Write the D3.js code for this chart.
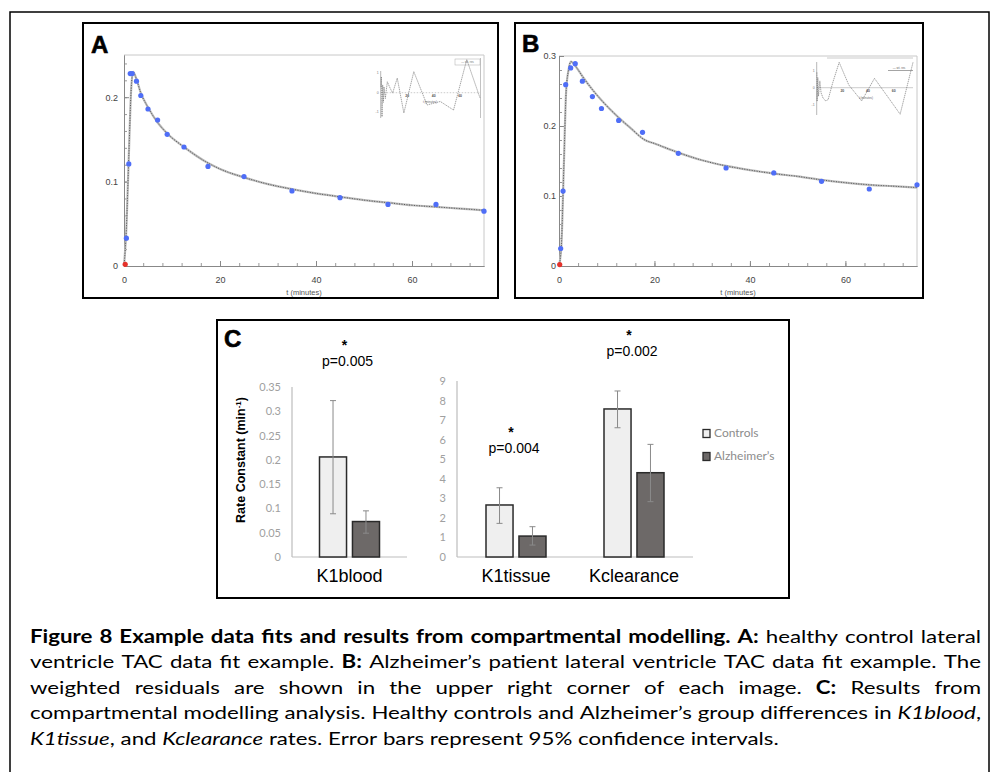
<!DOCTYPE html>
<html>
<head>
<meta charset="utf-8">
<script src="https://cdn.jsdelivr.net/npm/d3@7"></script>
<style>
  body { margin: 0; background: #fff; }
  svg { display: block; }
</style>
</head>
<body>
<svg id="fig" width="991" height="772"></svg>
<script>
// ---- Panel A: healthy control, lateral ventricle TAC ----
const timesA = [0.25, 0.5, 1, 1.3, 1.7, 2.6, 3.5, 5, 7, 9, 12.5, 17.5, 25, 35, 45, 55, 65, 75];
const valuesA = [0.002, 0.033, 0.121, 0.228, 0.228, 0.219, 0.202, 0.186, 0.173, 0.156, 0.141, 0.118, 0.106, 0.089, 0.081, 0.073, 0.073, 0.065];
const fitTimesA = [0, 0.5, 1, 1.5, 1.9, 2.5, 3.5, 5, 7, 9, 12.5, 17.5, 20, 25, 30, 35, 40, 45, 50, 55, 60, 65, 70, 75];
const fitValuesA = [0, 0.045, 0.13, 0.21, 0.23, 0.223, 0.205, 0.188, 0.17, 0.157, 0.141, 0.122, 0.115, 0.105, 0.097, 0.091, 0.086, 0.082, 0.078, 0.075, 0.072, 0.07, 0.068, 0.066];
const resTimesA = [0.25, 0.5, 1, 1.5, 2, 2.5, 3.5, 5, 7, 9, 12.5, 17.5, 25, 35, 45, 55, 65, 75];
const resValuesA = [0.3, 0.82, -1.23, 0.4, -0.5, 0.3, -0.3, 0.56, 0.25, -0.02, 0.75, -1.04, 1.08, -0.63, -0.45, -0.89, 1.7, -0.27];

// ---- Panel B: Alzheimer's patient, lateral ventricle TAC ----
const timesB = [0.15, 0.35, 0.85, 1.4, 2.45, 3.4, 4.9, 7, 8.9, 12.5, 17.5, 25, 35, 45, 55, 65, 75];
const valuesB = [0.002, 0.025, 0.107, 0.259, 0.283, 0.289, 0.264, 0.242, 0.225, 0.208, 0.191, 0.161, 0.14, 0.133, 0.121, 0.11, 0.116];
const fitTimesB = [0, 0.5, 1, 1.5, 2, 2.5, 3.5, 5, 7, 9, 12.5, 15, 18, 20, 25, 30, 35, 40, 45, 50, 55, 60, 65, 70, 75];
const fitValuesB = [0, 0.03, 0.14, 0.25, 0.28, 0.292, 0.285, 0.27, 0.252, 0.236, 0.212, 0.197, 0.18, 0.175, 0.162, 0.151, 0.143, 0.137, 0.132, 0.128, 0.123, 0.119, 0.116, 0.114, 0.112];
const resTimesB = [0.15, 0.35, 0.85, 1.4, 2.45, 3.4, 4.9, 7, 8.9, 12.5, 17.5, 25, 35, 45, 55, 65, 75];
const resValuesB = [0.9, -0.8, 0.6, -0.5, 0.4, -0.3, -0.6, -0.78, -0.7, 0.3, 1.49, 0.16, -0.78, 0.55, -0.5, -1.56, 1.49];

// axis ticks for A / B
const timeMajorTicks = [0, 20, 40, 60];
const timeMinorTicks = d3.range(0, 76, 4);
const tacTicksA = [0, 0.1, 0.2];
const tacTicksB = [0, 0.1, 0.2, 0.3];
const tacMinorTicks = d3.range(0, 0.301, 0.02);
const resTicks = [-1, 0, 1];

// ---- Panel C: rate constants ----
const rateCategories = ['K1blood', 'K1tissue', 'Kclearance'];
const seriesNames = ['Controls', 'Alzheimer’s'];
const controlsRate = [0.206, 2.66, 7.57];
const controlsLow = [0.089, 1.72, 6.61];
const controlsHigh = [0.322, 3.54, 8.49];
const alzRate = [0.073, 1.07, 4.31];
const alzLow = [0.049, 0.61, 2.83];
const alzHigh = [0.095, 1.55, 5.76];
const pLabels = ['p=0.005', 'p=0.004', 'p=0.002'];
const bloodTicks = [0, 0.05, 0.1, 0.15, 0.2, 0.25, 0.3, 0.35];
const bloodTickLabels = ['0', '0.05', '0.1', '0.15', '0.2', '0.25', '0.3', '0.35'];
const tissueTicks = [0, 1, 2, 3, 4, 5, 6, 7, 8, 9];

const svg = d3.select('#fig');
const SANS = '"Liberation Sans", Arial, sans-serif';
const EXCEL = 'Lato, "Open Sans", sans-serif';

// outer frame
svg.append('rect')
    .attr('x', 10).attr('y', 12)
    .attr('width', 979).attr('height', 790)
    .attr('fill', 'none').attr('stroke', '#000').attr('stroke-width', 1.5);

// Draw a TAC fit panel (A or B)
function drawFitPanel(cfg) {
    const g = svg.append('g');

    g.append('rect')
        .attr('x', cfg.box[0]).attr('y', cfg.box[1])
        .attr('width', cfg.box[2] - cfg.box[0]).attr('height', cfg.box[3] - cfg.box[1])
        .attr('fill', '#fff').attr('stroke', '#000').attr('stroke-width', 2);

    g.append('text')
        .attr('x', cfg.labelPos[0]).attr('y', cfg.labelPos[1])
        .style('font', `bold 24px ${SANS}`)
        .attr('stroke', '#000').attr('stroke-width', 0.6)
        .text(cfg.label);

    const x = d3.scaleLinear().domain([0, 75]).range([cfg.plot[0], cfg.plot[1]]);
    const y = d3.scaleLinear().domain([0, cfg.ymax]).range([cfg.plot[2], cfg.plot[3]]);

    // light frame on top / right
    g.append('path')
        .attr('d', `M${x(0)},${y(cfg.ymax)}H${x(75)}V${y(0)}`)
        .attr('fill', 'none').attr('stroke', '#c8c8c8').attr('stroke-width', 1);

    // minor ticks
    g.append('g')
        .attr('transform', `translate(0,${y(0)})`)
        .call(d3.axisBottom(x).tickValues(timeMinorTicks).tickSize(-3).tickFormat('').tickSizeOuter(0))
        .call(a => a.selectAll('line,path').attr('stroke', '#999'));
    g.append('g')
        .attr('transform', `translate(${x(0)},0)`)
        .call(d3.axisLeft(y).tickValues(tacMinorTicks.filter(v => v <= cfg.ymax + 1e-9)).tickSize(-3).tickFormat('').tickSizeOuter(0))
        .call(a => a.selectAll('line,path').attr('stroke', '#999'));

    // major ticks + labels
    g.append('g')
        .attr('transform', `translate(0,${y(0)})`)
        .call(d3.axisBottom(x).tickValues(timeMajorTicks).tickSize(-5).tickPadding(11).tickSizeOuter(0))
        .call(a => a.selectAll('line,path').attr('stroke', '#888'))
        .call(a => a.selectAll('text').style('font', `9px ${SANS}`).attr('fill', '#444'));
    g.append('g')
        .attr('transform', `translate(${x(0)},0)`)
        .call(d3.axisLeft(y).tickValues(cfg.yTicks).tickSize(-5).tickPadding(cfg.yPad).tickSizeOuter(0)
            .tickFormat(d => d === 0 ? '0' : d3.format('.1f')(d)))
        .call(a => a.selectAll('line,path').attr('stroke', '#888'))
        .call(a => a.selectAll('text').style('font', `9px ${SANS}`).attr('fill', '#444'));

    g.append('text')
        .attr('x', (x(0) + x(75)) / 2).attr('y', 294.5)
        .attr('text-anchor', 'middle')
        .style('font', `7.5px ${SANS}`).attr('fill', '#555')
        .text('t (minutes)');

    // fitted curve: grey band with dotted overlay
    const fit = cfg.fitT.map((t, i) => [t, cfg.fitV[i]]);
    const line = d3.line().x(d => x(d[0])).y(d => y(d[1])).curve(d3.curveMonotoneX);
    g.append('path').attr('d', line(fit))
        .attr('fill', 'none').attr('stroke', '#bcbcbc').attr('stroke-width', 2.2);
    g.append('path').attr('d', line(fit))
        .attr('fill', 'none').attr('stroke', '#3a3a3a').attr('stroke-width', 0.8)
        .attr('stroke-dasharray', '1,1.5');

    // measured points
    g.selectAll('.pt')
        .data(cfg.t.map((t, i) => [t, cfg.v[i]]))
        .enter().append('circle')
        .attr('cx', d => x(d[0])).attr('cy', d => y(d[1]))
        .attr('r', 2.6)
        .attr('fill', (d, i) => i === 0 ? '#e5322b' : '#4f6ef7');

    // weighted residuals inset
    const ins = cfg.inset;
    const ix = d3.scaleLinear().domain([0, 75]).range([ins.x0, ins.x1]);
    const iy = d3.scaleLinear().domain([-1, 1]).range([ins.zero + ins.unit, ins.zero - ins.unit]);
    const ig = g.append('g');
    ig.append('line')
        .attr('x1', ix(0)).attr('x2', ix(0)).attr('y1', ins.axisTop).attr('y2', ins.axisBottom)
        .attr('stroke', '#888').attr('stroke-width', 0.6);
    ig.append('line')
        .attr('x1', ix(0)).attr('x2', ix(75)).attr('y1', iy(0)).attr('y2', iy(0))
        .attr('stroke', '#aaa').attr('stroke-width', 0.6)
        .attr('stroke-dasharray', ins.dashedZero ? '1.5,1.5' : null);
    ins.extra(ig, ix, iy);
    ig.selectAll('.rt')
        .data(resTicks)
        .enter().append('text')
        .attr('x', ix(0) - 2).attr('y', d => iy(d) + 1)
        .attr('text-anchor', 'end')
        .style('font', `3.5px ${SANS}`).attr('fill', '#777')
        .text(d => d);
    ig.selectAll('.xt')
        .data([20, 40, 60])
        .enter().append('text')
        .attr('x', d => ix(d)).attr('y', iy(0) + 4.5)
        .attr('text-anchor', 'middle')
        .style('font', `bold 3.5px ${SANS}`).attr('fill', '#555')
        .text(d => d);
    ig.append('text')
        .attr('x', ins.tlabel[0]).attr('y', ins.tlabel[1])
        .attr('text-anchor', 'middle')
        .style('font', `3px ${SANS}`).attr('fill', '#666')
        .text('t (minutes)');
    ig.append('path')
        .attr('d', d3.line().x(d => ix(d[0])).y(d => iy(d[1]))(ins.t.map((t, i) => [t, ins.v[i]])))
        .attr('fill', 'none').attr('stroke', '#666').attr('stroke-width', 0.6)
        .attr('stroke-dasharray', '1.4,0.7');
}

drawFitPanel({
    label: 'A', labelPos: [91, 53],
    box: [83, 23, 498, 298],
    plot: [124, 484, 266, 55], ymax: 0.25, yTicks: tacTicksA, yPad: 6,
    t: timesA, v: valuesA, fitT: fitTimesA, fitV: fitValuesA,
    inset: {
        x0: 380.7, x1: 480, zero: 92.7, unit: 19.5, axisTop: 71, axisBottom: 118,
        dashedZero: true, tlabel: [430, 103], t: resTimesA, v: resValuesA,
        extra: (ig) => {
            ig.append('line').attr('x1', 480.5).attr('x2', 480.5).attr('y1', 58).attr('y2', 118)
                .attr('stroke', '#999').attr('stroke-width', 0.6);
            ig.append('rect').attr('x', 455).attr('y', 59).attr('width', 25).attr('height', 6)
                .attr('fill', 'none').attr('stroke', '#aaa').attr('stroke-width', 0.5);
            ig.append('text').attr('x', 467.5).attr('y', 63.2).attr('text-anchor', 'middle')
                .style('font', `3px ${SANS}`).attr('fill', '#777').text('— wt. res');
        }
    }
});

drawFitPanel({
    label: 'B', labelPos: [522, 52],
    box: [515, 23, 923, 298],
    plot: [559, 917, 266, 56], ymax: 0.3, yTicks: tacTicksB, yPad: 3,
    t: timesB, v: valuesB, fitT: fitTimesB, fitV: fitValuesB,
    inset: {
        x0: 816.7, x1: 913, zero: 87.7, unit: 17, axisTop: 62, axisBottom: 115,
        dashedZero: false, tlabel: [866, 99], t: resTimesB, v: resValuesB,
        extra: (ig) => {
            ig.append('line').attr('x1', 827).attr('x2', 913).attr('y1', 58).attr('y2', 58)
                .attr('stroke', '#aaa').attr('stroke-width', 0.6);
            ig.append('line').attr('x1', 888).attr('x2', 913).attr('y1', 70.5).attr('y2', 70.5)
                .attr('stroke', '#666').attr('stroke-width', 0.6);
            ig.append('text').attr('x', 899).attr('y', 68.5).attr('text-anchor', 'middle')
                .style('font', `3px ${SANS}`).attr('fill', '#666').text('— wt. res');
        }
    }
});

// ---- Panel C ----
const gc = svg.append('g');
gc.append('rect')
    .attr('x', 217).attr('y', 320).attr('width', 572).attr('height', 278)
    .attr('fill', '#fff').attr('stroke', '#000').attr('stroke-width', 2);
gc.append('text').attr('x', 224).attr('y', 347)
    .style('font', `bold 24px ${SANS}`)
    .attr('stroke', '#000').attr('stroke-width', 0.6)
    .text('C');

const yBlood = d3.scaleLinear().domain([0, 0.35]).range([557, 387]);
const yTissue = d3.scaleLinear().domain([0, 9]).range([557, 381]);
const xBlood = d3.scaleBand().domain(rateCategories.slice(0, 1)).range([292, 407]);
const xTissue = d3.scaleBand().domain(rateCategories.slice(1)).range([457, 693]);
const xSeries = d3.scaleBand().domain(seriesNames).range([-30, 30]).paddingInner(0.18);
const barFill = ['#efefef', '#6d6968'];

function drawRateChart(xs, ys, ticks, tickLabels, idx) {
    const [x0, x1] = xs.range();
    // axis lines
    gc.append('line').attr('x1', x0).attr('x2', x0).attr('y1', ys.range()[1]).attr('y2', ys(0))
        .attr('stroke', '#bdbdbd').attr('stroke-width', 1.2);
    gc.append('line').attr('x1', x0).attr('x2', x1).attr('y1', ys(0)).attr('y2', ys(0))
        .attr('stroke', '#bdbdbd').attr('stroke-width', 1.2);
    gc.append('g')
        .attr('transform', `translate(${x0 - 9},0)`)
        .call(d3.axisLeft(ys).tickValues(ticks).tickSize(0).tickPadding(2)
            .tickFormat((d, i) => tickLabels[i]))
        .call(a => a.select('.domain').remove())
        .call(a => a.selectAll('text').style('font', `11px ${EXCEL}`).attr('fill', '#a0a0a0'));

    idx.forEach(i => {
        const cat = rateCategories[i];
        const cx = xs(cat) + xs.bandwidth() / 2;
        const rows = [
            { s: 0, v: controlsRate[i], lo: controlsLow[i], hi: controlsHigh[i] },
            { s: 1, v: alzRate[i], lo: alzLow[i], hi: alzHigh[i] }
        ];
        rows.forEach(r => {
            const bx = cx + xSeries(seriesNames[r.s]);
            gc.append('rect')
                .attr('x', bx).attr('y', ys(r.v))
                .attr('width', xSeries.bandwidth()).attr('height', ys(0) - ys(r.v))
                .attr('fill', barFill[r.s]).attr('stroke', '#2a2a2a').attr('stroke-width', 1.5);
            const ex = bx + xSeries.bandwidth() / 2;
            gc.append('path')
                .attr('d', `M${ex},${ys(r.lo)}V${ys(r.hi)}M${ex - 3},${ys(r.hi)}H${ex + 3}M${ex - 3},${ys(r.lo)}H${ex + 3}`)
                .attr('fill', 'none').attr('stroke', '#8a8a8a').attr('stroke-width', 1);
        });
        // significance marks
        const top = ys(Math.max(controlsHigh[i], alzHigh[i]));
        const pBase = top - 35;
        gc.append('text').attr('x', cx - 5).attr('y', pBase - 16)
            .attr('text-anchor', 'middle')
            .style('font', `bold 14px ${SANS}`).text('*');
        gc.append('text').attr('x', cx - 2).attr('y', pBase)
            .attr('text-anchor', 'middle')
            .style('font', `14px ${SANS}`).text(pLabels[i]);
        gc.append('text').attr('x', cx).attr('y', 582)
            .attr('text-anchor', 'middle')
            .style('font', `18px ${SANS}`).text(cat);
    });
}

drawRateChart(xBlood, yBlood, bloodTicks, bloodTickLabels, [0]);
drawRateChart(xTissue, yTissue, tissueTicks, tissueTicks.map(String), [1, 2]);

// y axis title
gc.append('text')
    .attr('transform', 'translate(245,460) rotate(-90)')
    .attr('text-anchor', 'middle')
    .style('font', `bold 12.5px ${SANS}`)
    .call(t => {
        t.append('tspan').text('Rate Constant (min');
        t.append('tspan').attr('dy', -4).style('font-size', '8px').text('-1');
        t.append('tspan').attr('dy', 4).text(')');
    });

// legend
const legend = gc.selectAll('.lg')
    .data(seriesNames)
    .enter().append('g')
    .attr('transform', (d, i) => `translate(703,${429.5 + i * 23})`);
legend.append('rect')
    .attr('width', 7).attr('height', 8)
    .attr('fill', (d, i) => barFill[i]).attr('stroke', '#2a2a2a').attr('stroke-width', 1.3);
legend.append('text')
    .attr('x', 11).attr('y', 7.5)
    .style('font', `12px ${EXCEL}`).attr('fill', '#8c8c8c')
    .text(d => d);

// ---- Caption (justified, narrowed to a Calibri-like width) ----
const captionLines = [
    [['b', 'Figure 8 Example data fits and results from compartmental modelling. A:'], ['n', ' healthy control lateral']],
    [['n', 'ventricle TAC data fit example. '], ['b', 'B:'], ['n', ' Alzheimer’s patient lateral ventricle TAC data fit example. The']],
    [['n', 'weighted residuals are shown in the upper right corner of each image. '], ['b', 'C:'], ['n', ' Results from']],
    [['n', 'compartmental modelling analysis. Healthy controls and Alzheimer’s group differences in '], ['i', 'K1blood'], ['n', ',']],
    [['i', 'K1tissue'], ['n', ', and '], ['i', 'Kclearance'], ['n', ' rates. Error bars represent 95% confidence intervals.']]
];
const capLeft = 30, capRight = 981, capTop = 642.5, capStep = 25.6;

function splitWords(segs) {
    const words = [];
    let cur = [];
    segs.forEach(([style, text]) => {
        text.split(' ').forEach((part, j) => {
            if (j > 0) { if (cur.length) words.push(cur); cur = []; }
            if (part) cur.push([style, part]);
        });
    });
    if (cur.length) words.push(cur);
    return words;
}

const cap = svg.append('g')
    .style('font-family', EXCEL).style('font-size', '18px').attr('fill', '#000');
const lineWords = captionLines.map(splitWords);
const wordNodes = lineWords.map((words, li) => words.map(w => {
    const t = cap.append('text').attr('y', capTop + li * capStep);
    w.forEach(([style, txt]) => {
        t.append('tspan')
            .style('font-weight', style === 'b' ? 'bold' : null)
            .style('font-style', style === 'i' ? 'italic' : null)
            .text(txt);
    });
    return t;
}));
const probe = cap.append('text').text('x x');
const probe2 = cap.append('text').text('xx');
const spaceW = probe.node().getComputedTextLength() - probe2.node().getComputedTextLength();
probe.remove(); probe2.remove();

// squeeze horizontally so the tightest line (line 4) fills the width
const widths = wordNodes.map(ws => ws.map(n => n.node().getComputedTextLength()));
const natural4 = d3.sum(widths[3]) + spaceW * (widths[3].length - 1);
const sx = (capRight - capLeft - 1) / natural4;
cap.attr('transform', `translate(${capLeft},0) scale(${sx},1)`);

const fullW = (capRight - capLeft) / sx;
wordNodes.forEach((ws, li) => {
    const last = li === wordNodes.length - 1;
    const gap = last ? spaceW : (fullW - d3.sum(widths[li])) / (ws.length - 1);
    let xpos = 0;
    ws.forEach((n, wi) => {
        n.attr('x', xpos);
        xpos += widths[li][wi] + gap;
    });
});
</script>
</body>
</html>
